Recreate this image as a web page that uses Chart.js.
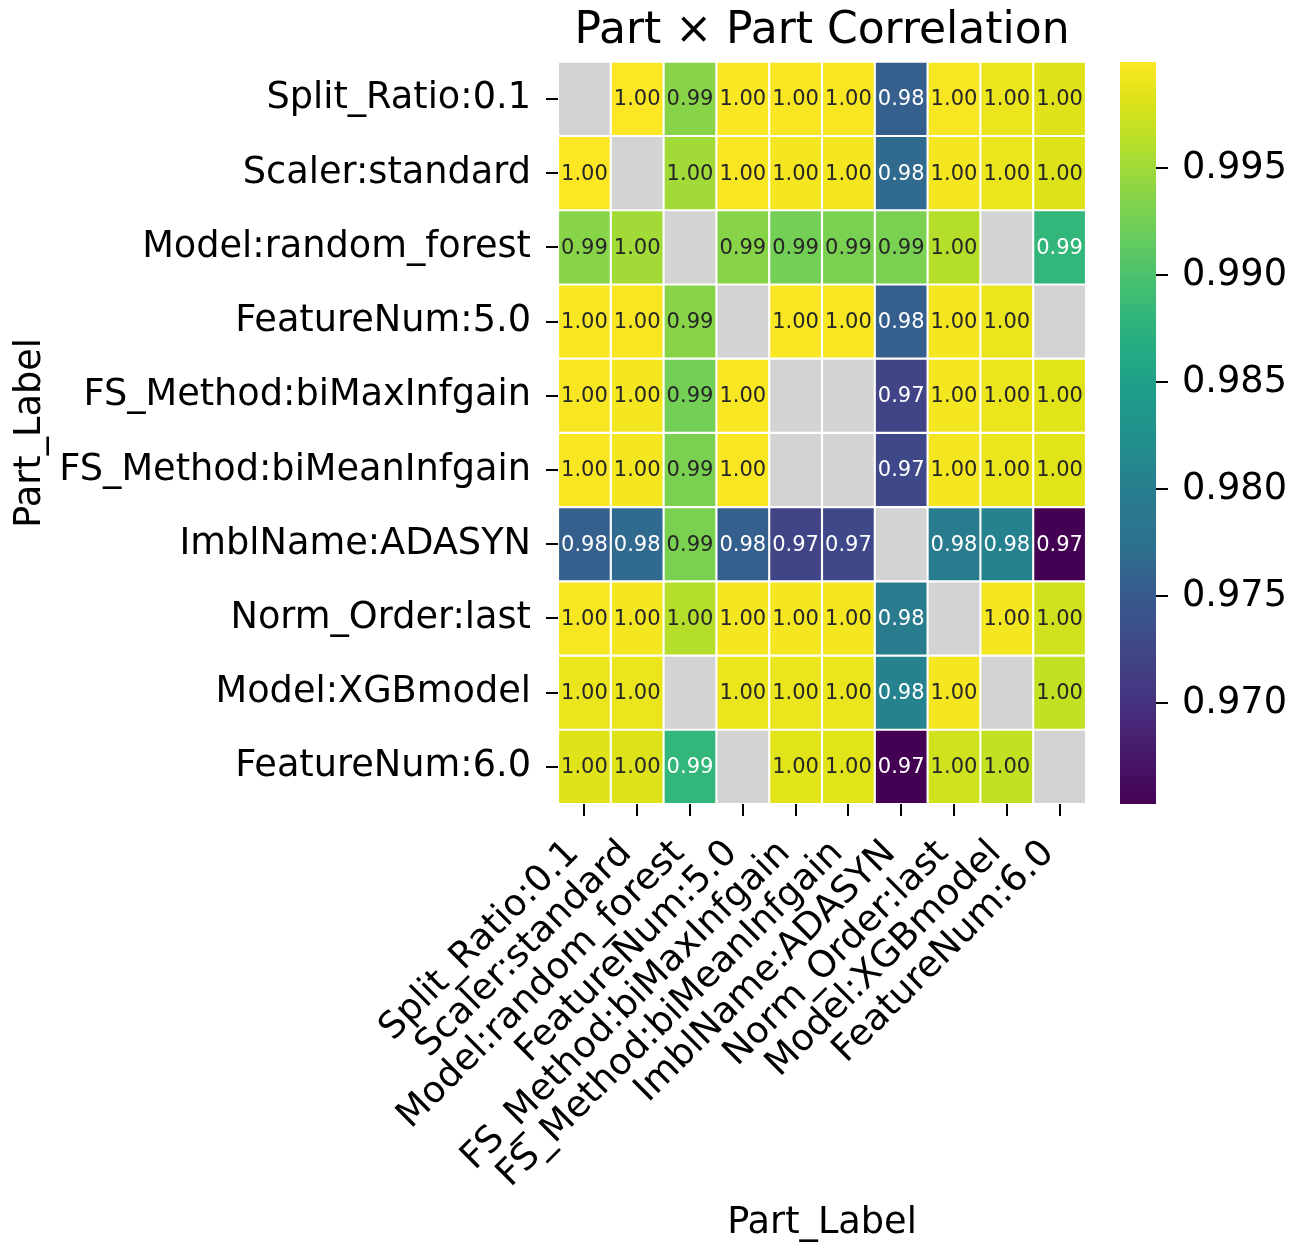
<!DOCTYPE html>
<html><head><meta charset="utf-8">
<script src="https://cdn.jsdelivr.net/npm/chart.js@4.4.1/dist/chart.umd.min.js"></script>
<style>
html,body{margin:0;padding:0;background:#fff;}
#wrap{position:relative;width:1303px;height:1242px;}
#main{position:absolute;left:0;top:0;}
#cb{position:absolute;left:1120px;top:0;}
</style></head><body>
<div id="wrap">
<canvas id="main" width="1303" height="1242"></canvas>
<canvas id="cb" width="183" height="1242"></canvas>
</div>
<script>
// ---------- DATA ----------
const partLabels = ["Split_Ratio:0.1","Scaler:standard","Model:random_forest","FeatureNum:5.0",
  "FS_Method:biMaxInfgain","FS_Method:biMeanInfgain","ImblName:ADASYN","Norm_Order:last",
  "Model:XGBmodel","FeatureNum:6.0"];
const rowSplitRatio   = [null,   0.99995,0.9937, 0.9998, 0.9997, 0.9997, 0.9757, 0.9996, 0.9989, 0.9984];
const rowScaler       = [0.99995,null,   0.9951, 0.9997, 0.9995, 0.9995, 0.9767, 0.9995, 0.9989, 0.9982];
const rowRandomForest = [0.9937, 0.9951, null,   0.9937, 0.9926, 0.9930, 0.9930, 0.9961, null,   0.9881];
const rowFeatureNum5  = [0.9998, 0.9997, 0.9937, null,   0.9998, 0.9997, 0.9757, 0.9995, 0.9989, null  ];
const rowBiMax        = [0.9997, 0.9995, 0.9926, 0.9998, null,   null,   0.9722, 0.9995, 0.9989, 0.9985];
const rowBiMean       = [0.9997, 0.9995, 0.9930, 0.9997, null,   null,   0.9729, 0.9995, 0.9989, 0.9985];
const rowADASYN       = [0.9757, 0.9767, 0.9930, 0.9757, 0.9722, 0.9729, null,   0.9795, 0.9805, 0.9653];
const rowNormOrder    = [0.9996, 0.9995, 0.9961, 0.9995, 0.9995, 0.9995, 0.9795, null,   0.9995, 0.9975];
const rowXGB          = [0.9989, 0.9989, null,   0.9989, 0.9989, 0.9989, 0.9805, 0.9995, null,   0.9968];
const rowFeatureNum6  = [0.9984, 0.9982, 0.9881, null,   0.9985, 0.9985, 0.9653, 0.9975, 0.9968, null  ];
const matrixRows = [rowSplitRatio,rowScaler,rowRandomForest,rowFeatureNum5,rowBiMax,rowBiMean,
  rowADASYN,rowNormOrder,rowXGB,rowFeatureNum6];
const colorbarTicks = [0.970, 0.975, 0.980, 0.985, 0.990, 0.995];
const titleText = "Part \u00d7 Part Correlation";
const axisTitle = "Part_Label";

// ---------- COLORS ----------
const VIRIDIS = ["#440154","#471365","#482475","#453781","#414487","#3b528b","#355f8d","#2c728e",
  "#2a788e","#25858e","#21918c","#1e9b8a","#22a884","#2fb47c","#44bf70","#5ec962","#7ad151",
  "#9bd93c","#bddf26","#dde318","#fde725"];
function hex2rgb(h){return [parseInt(h.slice(1,3),16),parseInt(h.slice(3,5),16),parseInt(h.slice(5,7),16)];}
const VRGB = VIRIDIS.map(hex2rgb);
function viridisRGB(t){
  t = Math.max(0, Math.min(1, t));
  const n = VRGB.length - 1, p = t * n, i = Math.min(Math.floor(p), n - 1), f = p - i;
  return VRGB[i].map((c, k) => Math.round(c + (VRGB[i+1][k] - c) * f));
}
const flat = matrixRows.flat().filter(v => v != null);
const vmin = Math.min(...flat), vmax = Math.max(...flat);
function cellRGB(v){ return viridisRGB((v - vmin) / (vmax - vmin)); }
function rgbStr(c){ return `rgb(${c[0]},${c[1]},${c[2]})`; }
function lum(c){
  const l = c.map(x => { x /= 255; return x <= 0.03928 ? x / 12.92 : Math.pow((x + 0.055) / 1.055, 2.4); });
  return 0.2126*l[0] + 0.7152*l[1] + 0.0722*l[2];
}
const NAN_COLOR = "#d3d3d3";
const FONT = "'DejaVu Sans', sans-serif";
const TICK_SIZE = 36.7;

// ---------- MAIN HEATMAP ----------
const datasets = matrixRows.map((row, r) => ({
  label: partLabels[r],
  data: row.map(() => [r, r + 1]),
  backgroundColor: row.map(v => v == null ? NAN_COLOR : rgbStr(cellRGB(v))),
  borderColor: "#ffffff",
  borderWidth: 1.4,
  borderSkipped: false,
  grouped: false,
  barPercentage: 1,
  categoryPercentage: 1
}));

const annotate = {
  id: "annotate",
  afterDatasetsDraw(chart){
    const ctx = chart.ctx;
    ctx.save();
    ctx.font = `21px ${FONT}`;
    ctx.textAlign = "center";
    ctx.textBaseline = "middle";
    chart.data.datasets.forEach((ds, r) => {
      const meta = chart.getDatasetMeta(r);
      meta.data.forEach((el, c) => {
        const v = matrixRows[r][c];
        if (v == null) return;
        const p = el.getProps(["x","y","base"], true);
        ctx.fillStyle = lum(cellRGB(v)) > 0.408 ? "#262626" : "#ffffff";
        ctx.fillText(v.toFixed(2), p.x, (p.y + p.base) / 2 + 1);
      });
    });
    ctx.restore();
  }
};

new Chart(document.getElementById("main"), {
  type: "bar",
  data: { labels: partLabels, datasets },
  options: {
    responsive: false,
    animation: false,
    events: [],
    layout: { padding: { left: 0, right: 217, top: 0, bottom: 0 } },
    plugins: {
      legend: { display: false },
      tooltip: { enabled: false },
      title: {
        display: true, text: titleText, fullSize: false, color: "#000",
        font: { family: FONT, size: 44, weight: "normal", lineHeight: 1.2 },
        padding: { top: 5, bottom: 4 }
      }
    },
    scales: {
      x: {
        type: "category", offset: true,
        grid: { offset: false, drawOnChartArea: false, drawTicks: true, tickLength: 12, color: "#000", lineWidth: 2 },
        border: { display: false },
        ticks: { autoSkip: false, minRotation: 45, maxRotation: 45, color: "#000", padding: 16, labelOffset: -11,
          font: { family: FONT, size: TICK_SIZE } },
        title: { display: true, text: axisTitle, color: "#000", font: { family: FONT, size: TICK_SIZE, lineHeight: 1.0 },
          padding: { top: 0, bottom: 0 } },
        afterFit(scale){ scale.height = 438; }
      },
      y: {
        type: "linear", min: 0, max: 10, reverse: true,
        afterBuildTicks(scale){ scale.ticks = partLabels.map((_, i) => ({ value: i + 0.5 })); },
        grid: { drawOnChartArea: false, drawTicks: true, tickLength: 12, color: "#000", lineWidth: 2 },
        border: { display: false },
        ticks: { color: "#000", padding: 15, font: { family: FONT, size: TICK_SIZE },
          callback: (v, i) => partLabels[i] },
        title: { display: true, text: axisTitle, color: "#000", font: { family: FONT, size: TICK_SIZE },
          padding: { top: 8, bottom: 0 } },
        afterFit(scale){ scale.width = 558; }
      }
    }
  },
  plugins: [annotate]
});

// ---------- COLORBAR ----------
new Chart(document.getElementById("cb"), {
  type: "bar",
  data: { labels: ["cb"], datasets: [{
    data: [[vmin, vmax]],
    backgroundColor(ctx){
      const area = ctx.chart.chartArea;
      if (!area) return "#888";
      const g = ctx.chart.ctx.createLinearGradient(0, area.bottom, 0, area.top);
      VIRIDIS.forEach((c, i) => g.addColorStop(i / (VIRIDIS.length - 1), c));
      return g;
    },
    borderWidth: 0, barPercentage: 1, categoryPercentage: 1
  }]},
  options: {
    responsive: false, animation: false, events: [],
    layout: { padding: { left: 0, right: 0, top: 62, bottom: 438 } },
    plugins: { legend: { display: false }, tooltip: { enabled: false }, title: { display: false } },
    scales: {
      x: { display: false },
      y: {
        type: "linear", position: "right", min: vmin, max: vmax,
        afterBuildTicks(scale){ scale.ticks = colorbarTicks.map(v => ({ value: v })); },
        grid: { drawOnChartArea: false, drawTicks: true, tickLength: 12, color: "#000", lineWidth: 2 },
        border: { display: false },
        ticks: { color: "#000", padding: 14, font: { family: FONT, size: TICK_SIZE },
          callback: v => Number(v).toFixed(3) },
        afterFit(scale){ scale.width = 147; }
      }
    }
  }
});
</script>
</body></html>
